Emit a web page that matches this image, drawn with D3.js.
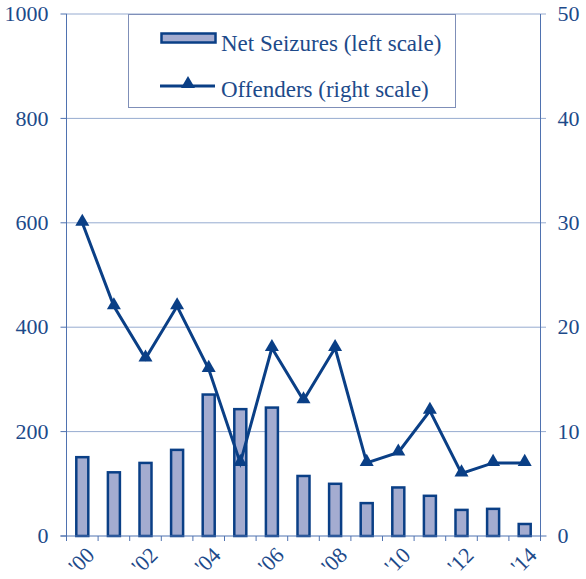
<!DOCTYPE html>
<html lang="en">
<head>
<meta charset="utf-8" />
<title>Net Seizures and Offenders</title>
<script src="https://cdnjs.cloudflare.com/ajax/libs/d3/7.8.5/d3.min.js"></script>
<style>
  body { margin: 0; background: #fff; }
</style>
</head>
<body>
<div id="chart"></div>
<script>
// data
var years = ["00","01","02","03","04","05","06","07","08","09","10","11","12","13","14"];
var seizures = [151, 122, 140, 165, 271, 243, 246, 115, 100, 63, 93, 77, 50, 52, 23];
var offenders = [30, 22, 17, 22, 16, 7, 18, 13, 18, 7, 8, 12, 6, 7, 7];
var leftTicks = [0, 200, 400, 600, 800, 1000];
var rightTicks = [0, 10, 20, 30, 40, 50];

var width = 586, height = 579;
var margin = { top: 14, right: 45.5, bottom: 43, left: 66.5 };
var dark = "#0a3f86", text = "#1d4a8a", barFill = "#a4acd0", axisCol = "#4f72b0";
var serif = "Liberation Serif";

var svg = d3.select("#chart").append("svg")
    .attr("width", width)
    .attr("height", height)
    .attr("font-family", serif);

var x = d3.scaleBand().domain(years)
    .range([margin.left, width - margin.right]);
var yL = d3.scaleLinear().domain([0, 1000])
    .range([height - margin.bottom, margin.top]);
var yR = d3.scaleLinear().domain([0, 50])
    .range([height - margin.bottom, margin.top]);

// gridlines (dotted), running a little past the right axis
svg.append("g").selectAll("line")
    .data(leftTicks.slice(1))
    .enter().append("line")
    .attr("x1", margin.left).attr("x2", width - margin.right + 6)
    .attr("y1", function (d) { return yL(d); })
    .attr("y2", function (d) { return yL(d); })
    .attr("stroke", "#2d57a0")
    .attr("stroke-width", 1)
    .attr("stroke-dasharray", "1,1");

// small left ticks
svg.append("g").selectAll("line")
    .data(leftTicks)
    .enter().append("line")
    .attr("x1", margin.left - 6).attr("x2", margin.left)
    .attr("y1", function (d) { return yL(d); })
    .attr("y2", function (d) { return yL(d); })
    .attr("stroke", axisCol).attr("stroke-width", 1);

// bars
var bw = 12;
svg.append("g").selectAll("rect")
    .data(seizures)
    .enter().append("rect")
    .attr("x", function (d, i) { return x(years[i]) + x.bandwidth() / 2 - bw / 2; })
    .attr("y", function (d) { return yL(d); })
    .attr("width", bw)
    .attr("height", function (d) { return yL(0) - yL(d); })
    .attr("fill", barFill)
    .attr("stroke", dark)
    .attr("stroke-width", 2.5);

// axes lines
svg.append("line")
    .attr("x1", margin.left).attr("x2", margin.left)
    .attr("y1", margin.top).attr("y2", yL(0))
    .attr("stroke", axisCol).attr("stroke-width", 1);
svg.append("line")
    .attr("x1", width - margin.right).attr("x2", width - margin.right)
    .attr("y1", margin.top).attr("y2", yL(0) + 5)
    .attr("stroke", axisCol).attr("stroke-width", 1);
svg.append("line")
    .attr("x1", margin.left - 6).attr("x2", width - margin.right + 6)
    .attr("y1", yL(0)).attr("y2", yL(0))
    .attr("stroke", axisCol).attr("stroke-width", 1);

// category ticks below baseline
svg.append("g").selectAll("line")
    .data(years.concat(["end"]))
    .enter().append("line")
    .attr("x1", function (d, i) { return margin.left + i * x.step(); })
    .attr("x2", function (d, i) { return margin.left + i * x.step(); })
    .attr("y1", yL(0)).attr("y2", yL(0) + 5)
    .attr("stroke", axisCol).attr("stroke-width", 1);

// left labels
svg.append("g").selectAll("text")
    .data(leftTicks)
    .enter().append("text")
    .attr("x", margin.left - 18)
    .attr("y", function (d) { return yL(d); })
    .attr("dy", "0.33em")
    .attr("text-anchor", "end")
    .attr("fill", text)
    .attr("font-size", 22)
    .text(function (d) { return d; });

// right labels
svg.append("g").selectAll("text")
    .data(rightTicks)
    .enter().append("text")
    .attr("x", width - margin.right + 17)
    .attr("y", function (d) { return yR(d); })
    .attr("dy", "0.33em")
    .attr("text-anchor", "start")
    .attr("fill", text)
    .attr("font-size", 22)
    .text(function (d) { return d; });

// x labels, every other year, rotated
svg.append("g").selectAll("text")
    .data(years.filter(function (d, i) { return i % 2 === 0; }))
    .enter().append("text")
    .attr("transform", function (d) {
        return "translate(" + (x(d) + x.bandwidth() / 2 + 8) + "," + (yL(0) + 15) + ") rotate(-45)";
    })
    .attr("text-anchor", "end")
    .attr("dy", "0.35em")
    .attr("fill", text)
    .attr("font-size", 22)
    .text(function (d) { return "'" + d; });

// offenders line
var line = d3.line()
    .x(function (d, i) { return x(years[i]) + x.bandwidth() / 2; })
    .y(function (d) { return yR(d); });
svg.append("path")
    .datum(offenders)
    .attr("d", line)
    .attr("fill", "none")
    .attr("stroke", dark)
    .attr("stroke-width", 3);

var tri = d3.symbol().type(d3.symbolTriangle).size(85);
svg.append("g").selectAll("path")
    .data(offenders)
    .enter().append("path")
    .attr("d", tri)
    .attr("transform", function (d, i) {
        return "translate(" + (x(years[i]) + x.bandwidth() / 2) + "," + (yR(d) - 1) + ")";
    })
    .attr("fill", dark);

// legend
var lg = svg.append("g");
lg.append("rect")
    .attr("x", 128.5).attr("y", 14.5)
    .attr("width", 327).attr("height", 93)
    .attr("fill", "#fff")
    .attr("stroke", "#7f8fb8").attr("stroke-width", 1);
lg.append("rect")
    .attr("x", 161.5).attr("y", 33.5)
    .attr("width", 54).attr("height", 9)
    .attr("fill", barFill)
    .attr("stroke", dark).attr("stroke-width", 2.5);
lg.append("text")
    .attr("x", 221).attr("y", 43)
    .attr("dy", "0.33em")
    .attr("fill", text)
    .attr("font-size", 23)
    .text("Net Seizures (left scale)");
lg.append("line")
    .attr("x1", 160).attr("x2", 215)
    .attr("y1", 86).attr("y2", 86)
    .attr("stroke", dark).attr("stroke-width", 3);
lg.append("path")
    .attr("d", tri)
    .attr("transform", "translate(188,84)")
    .attr("fill", dark);
lg.append("text")
    .attr("x", 221).attr("y", 89)
    .attr("dy", "0.33em")
    .attr("fill", text)
    .attr("font-size", 23)
    .text("Offenders (right scale)");
</script>
</body>
</html>
